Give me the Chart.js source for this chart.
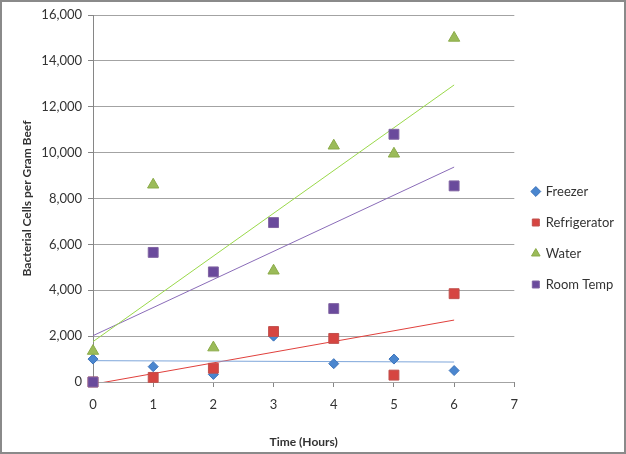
<!DOCTYPE html>
<html>
<head>
<meta charset="utf-8">
<script src="https://cdn.jsdelivr.net/npm/chart.js@4/dist/chart.umd.min.js"></script>
<style>
  html, body { margin: 0; padding: 0; background: #fff; }
  #wrap { width: 626px; height: 454px; }
</style>
</head>
<body>
<div id="wrap"><canvas id="graph" width="626" height="454"></canvas></div>
<script>
var hours = [0, 1, 2, 3, 4, 5, 6];
var freezer = [1000, 670, 330, 2000, 800, 1000, 500];
var refrigerator = [0, 200, 600, 2200, 1900, 300, 3850];
var water = [1350, 8600, 1500, 4850, 10300, 9950, 15000];
var roomTemp = [0, 5650, 4800, 6950, 3200, 10800, 8550];

// linear trendlines, ends at 0 h and 6 h
var trendHours = [0, 6];
var freezerTrend = [930, 870];
var refrigeratorTrend = [-100, 2700];
var waterTrend = [1760, 12950];
var roomTempTrend = [2020, 9370];

var xTicks = [0, 1, 2, 3, 4, 5, 6, 7];
var yTicks = [0, 2000, 4000, 6000, 8000, 10000, 12000, 14000, 16000];

var toPoints = function(xs, ys) {
  return xs.map(function(x, i) {
    return { x: x, y: ys[i] };
  });
};

var textColor = "#333333";
var axisColor = "#868686";
var gridColor = "#a3a3a3";

var marker = function(label, values, style, radius, fill, edge, order) {
  return {
    type: "scatter",
    label: label,
    data: toPoints(hours, values),
    pointStyle: style,
    pointRadius: radius,
    pointHoverRadius: radius,
    backgroundColor: fill,
    borderColor: edge,
    pointBorderWidth: 1,
    clip: false,
    order: order
  };
};

var trend = function(values, color) {
  return {
    type: "line",
    label: "trend",
    data: toPoints(trendHours, values),
    borderColor: color,
    borderWidth: 1,
    pointRadius: 0,
    fill: false,
    clip: 0,
    order: 10
  };
};

// grey frame round the whole picture
var framePlugin = {
  id: "frame",
  beforeDraw: function(chart) {
    var ctx = chart.ctx;
    ctx.save();
    ctx.fillStyle = "#ffffff";
    ctx.fillRect(0, 0, chart.width, chart.height);
    ctx.restore();
  },
  afterDraw: function(chart) {
    var ctx = chart.ctx;
    ctx.save();
    ctx.strokeStyle = "#8a8a8a";
    ctx.lineWidth = 2;
    ctx.strokeRect(1, 1, chart.width - 2, chart.height - 2);
    ctx.restore();
  }
};

var ctx = document.getElementById("graph").getContext("2d");
var chart = new Chart(ctx, {
  type: "scatter",
  data: {
    datasets: [
      marker("Freezer", freezer, "rectRot", 5, "#4a86cf", "#3d74bb", 4),
      marker("Refrigerator", refrigerator, "rect", 7, "#d64541", "#c0504d", 3),
      marker("Water", water, "triangle", 6.5, "#9bbb59", "#8bab49", 2),
      marker("Room Temp", roomTemp, "rect", 7, "#6a4a9c", "#8064a2", 1),
      trend(freezerTrend, "#7ea6da"),
      trend(refrigeratorTrend, "#e0403c"),
      trend(waterTrend, "#9ad84a"),
      trend(roomTempTrend, "#8a6cb8")
    ]
  },
  options: {
    responsive: false,
    animation: false,
    events: [],
    layout: { padding: { top: 15, left: 4, bottom: 4, right: 2 } },
    scales: {
      x: {
        type: "linear",
        min: 0,
        max: 7,
        afterBuildTicks: function(axis) {
          axis.ticks = xTicks.map(function(v) { return { value: v }; });
        },
        afterFit: function(axis) {
          axis.height = 68;
          axis.paddingLeft = 0;
          axis.paddingRight = 0;
        },
        grid: { drawOnChartArea: false, tickLength: 5, tickColor: axisColor },
        border: { display: false },
        ticks: { color: textColor, padding: 10, font: { family: "Lato", size: 13 } },
        title: {
          display: true,
          text: "Time (Hours)",
          color: textColor,
          padding: { top: 0, bottom: 1 },
          font: { family: "Lato", size: 12, weight: "bold" }
        }
      },
      y: {
        type: "linear",
        min: 0,
        max: 16000,
        afterBuildTicks: function(axis) {
          axis.ticks = yTicks.map(function(v) { return { value: v }; });
        },
        afterFit: function(axis) {
          axis.width = 89;
          axis.paddingTop = 0;
          axis.paddingBottom = 0;
        },
        grid: { color: gridColor, tickColor: axisColor, tickLength: 5 },
        border: { color: axisColor, width: 1 },
        ticks: {
          color: textColor,
          padding: 6,
          font: { family: "Lato", size: 13 },
          callback: function(v) { return v.toLocaleString("en-US"); }
        },
        title: {
          display: true,
          text: "Bacterial Cells per Gram Beef",
          color: textColor,
          padding: { top: 16, bottom: 0 },
          font: { family: "Lato", size: 12, weight: "bold" }
        }
      }
    },
    plugins: {
      tooltip: { enabled: false },
      legend: {
        position: "right",
        align: "start",
        // empty title only pushes the entries down to the middle
        title: { display: true, text: "", font: { size: 10 }, padding: { top: 140, bottom: 0 } },
        labels: {
          usePointStyle: true,
          boxWidth: 7,
          boxHeight: 7,
          padding: 18,
          color: textColor,
          font: { family: "Lato", size: 13 },
          filter: function(item) { return item.text !== "trend"; },
          sort: function(a, b) { return a.datasetIndex - b.datasetIndex; }
        }
      }
    }
  },
  plugins: [framePlugin]
});
</script>
</body>
</html>
